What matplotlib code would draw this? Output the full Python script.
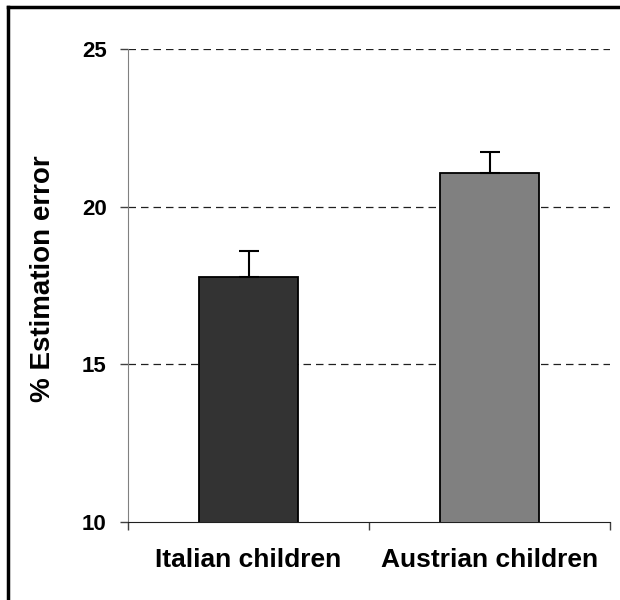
import matplotlib
matplotlib.use("Agg")
import matplotlib.pyplot as plt
from matplotlib.lines import Line2D

categories = ["Italian children", "Austrian children"]
values = [17.77, 21.07]
errors = [0.81, 0.68]
colors = ["#333333", "#808080"]
yticks = [10, 15, 20, 25]

plt.rcParams['font.family'] = ['Liberation Sans', 'DejaVu Sans']

fig = plt.figure(figsize=(6.2, 6.0), dpi=100)
ax = fig.add_axes([128/620, 1-521.7/600, (610-128)/620, (521.7-49.3)/600])

x = [0.5, 1.5]
ax.bar(x, values, width=0.41, color=colors, edgecolor="black", linewidth=1.3, zorder=3)
ax.errorbar(x, values, yerr=[[0, 0], errors], fmt="none", ecolor="black",
            elinewidth=1.5, capsize=7.5, capthick=1.5, zorder=4)

ax.set_xlim(0, 2)
ax.set_ylim(10, 25)
ax.set_yticks(yticks)
ax.set_yticklabels([str(t) for t in yticks], fontsize=16, fontweight="bold")
ax.set_xticks([0, 1, 2])
ax.set_xticklabels([])
ax.set_xticks(x, minor=True)
ax.set_xticklabels(categories, minor=True, fontsize=19, fontweight="bold")
ax.tick_params(axis="x", which="minor", length=0, pad=19)
ax.tick_params(axis="x", which="major", length=5.8, width=1, color="#404040", direction="out")
ax.tick_params(axis="y", length=5.8, width=1, color="#404040", pad=9.5, direction="out")

for t in [15, 20, 25]:
    ax.axhline(t, color="#202020", linestyle=(0, (6, 4)), linewidth=0.9, zorder=1)

ax.spines["top"].set_visible(False)
ax.spines["right"].set_visible(False)
ax.spines["left"].set_color("#808080")
ax.spines["bottom"].set_color("#202020")

ax.set_ylabel("% Estimation error", fontsize=20, fontweight="bold")
ax.yaxis.label.set_va("center")
ax.yaxis.set_label_coords((43 - 128) / 482, 0.514)

# outer frame (left and top edges)
fig.add_artist(Line2D([8/620, 8/620], [0, 1-7/600], transform=fig.transFigure, color="black", linewidth=2.5))
fig.add_artist(Line2D([8/620, 1], [1-7/600, 1-7/600], transform=fig.transFigure, color="black", linewidth=2.5))

fig.savefig("out.png", dpi=100)
